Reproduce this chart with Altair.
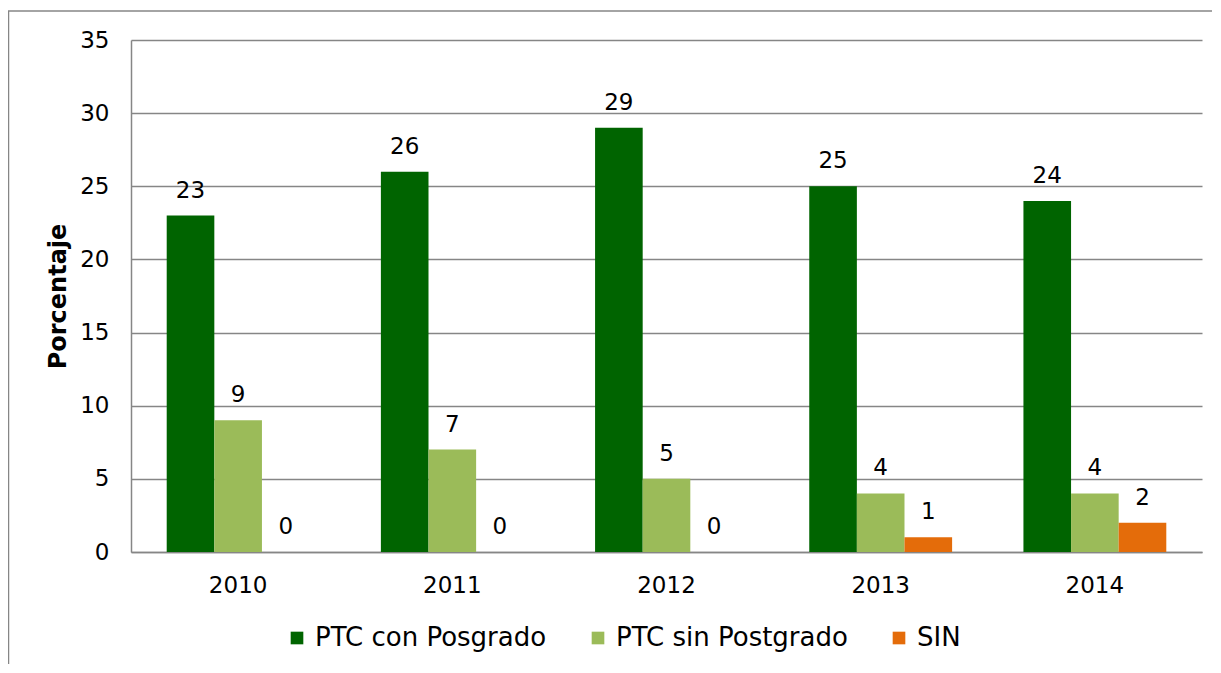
import altair as alt
import pandas as pd

years = ["2010", "2011", "2012", "2013", "2014"]
series = ["PTC con Posgrado", "PTC sin Postgrado", "SIN"]
con_posgrado = [23, 26, 29, 25, 24]
sin_postgrado = [9, 7, 5, 4, 4]
sin = [0, 0, 0, 1, 2]
colors = ["#006400", "#9BBB59", "#E46C0A"]

rows = []
for i, y in enumerate(years):
    rows.append({"year": y, "serie": series[0], "value": con_posgrado[i]})
    rows.append({"year": y, "serie": series[1], "value": sin_postgrado[i]})
    rows.append({"year": y, "serie": series[2], "value": sin[i]})
df = pd.DataFrame(rows)

W, H = 1071, 512
FONT = "DejaVu Sans"

base = alt.Chart(df).encode(
    x=alt.X("year:N", sort=years,
            scale=alt.Scale(paddingInner=0.333, paddingOuter=0.1667),
            axis=alt.Axis(title=None, labelAngle=0, ticks=False, labelPadding=22,
                          domainColor="#868686", domainWidth=1.5, grid=False)),
    xOffset=alt.XOffset("serie:N", sort=series,
                        scale=alt.Scale(paddingInner=0, paddingOuter=0)),
)

bars = base.mark_bar().encode(
    y=alt.Y("value:Q", scale=alt.Scale(domain=[0, 35], nice=False),
            axis=alt.Axis(title="Porcentaje", values=[0, 5, 10, 15, 20, 25, 30, 35],
                          ticks=False, labelPadding=22, grid=True,
                          gridColor="#868686", gridWidth=1.5,
                          domainColor="#868686", domainWidth=1.5,
                          titleFontWeight="bold", titleFontSize=24, titlePadding=9)),
    color=alt.Color("serie:N", sort=series,
                    scale=alt.Scale(domain=series, range=colors),
                    legend=alt.Legend(title=None, orient="none", direction="horizontal",
                                      legendX=153, legendY=585,
                                      symbolType="square", symbolSize=160,
                                      symbolStrokeWidth=0, labelFontSize=26,
                                      labelLimit=600,
                                      labelOffset=5, columnPadding=38)),
)

labels = base.mark_text(baseline="middle", dy=-25, fontSize=23, font=FONT,
                        color="black").encode(
    y=alt.Y("value:Q"),
    text=alt.Text("value:Q"),
)

frame = alt.Chart(pd.DataFrame({"a": [0]})).mark_rect(
    fill=None, stroke="#868686", strokeWidth=1.5
).encode(
    x=alt.value(-122.5), x2=alt.value(W + 200),
    y=alt.value(-29), y2=alt.value(H + 300),
)

chart = alt.layer(frame, bars, labels).properties(
    width=W, height=H,
    autosize=alt.AutoSizeParams(type="none"),
    padding={"left": 123, "top": 32, "right": 10, "bottom": 112},
).configure_view(stroke=None).configure_axis(
    labelFont=FONT, titleFont=FONT, labelFontSize=23, labelColor="black",
    titleColor="black",
).configure_legend(labelFont=FONT, labelColor="black")

chart.save("out.html", embed_options={"renderer": "svg", "actions": False})
